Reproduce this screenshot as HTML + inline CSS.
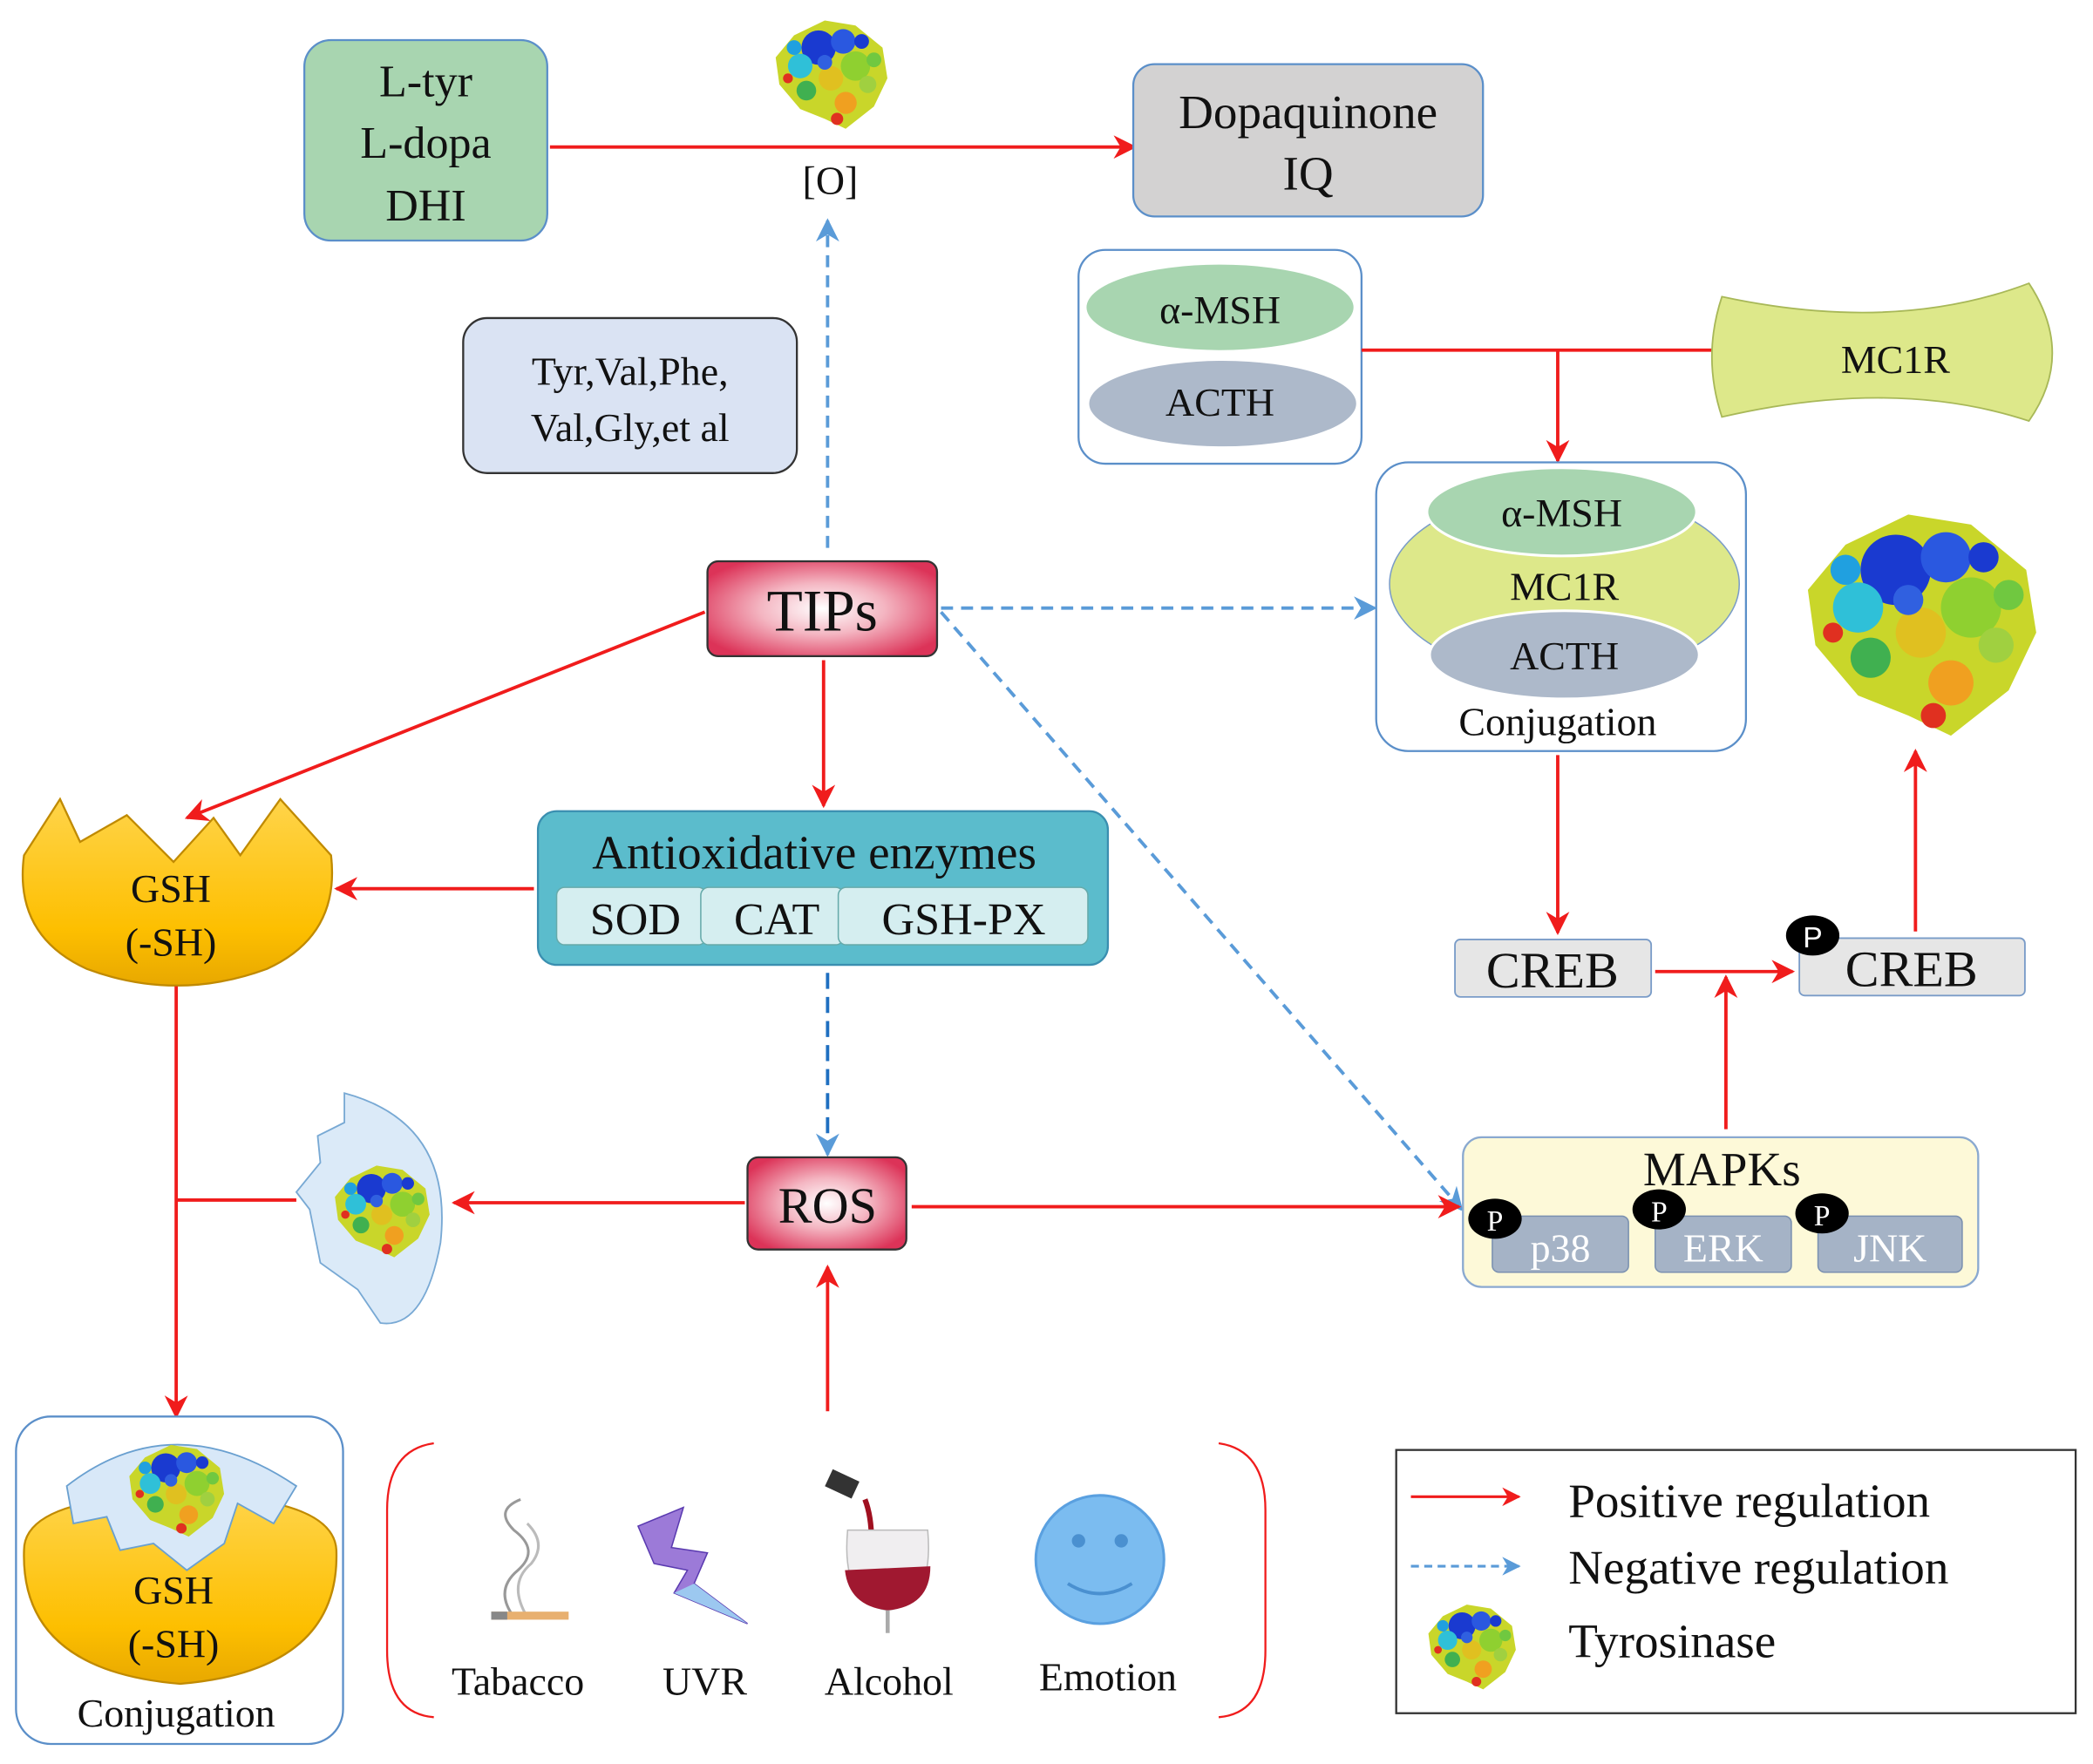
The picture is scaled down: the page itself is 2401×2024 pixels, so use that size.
<!DOCTYPE html>
<html><head><meta charset="utf-8"><style>
html,body{margin:0;padding:0;background:#fff}
svg{display:block}
text{font-family:"Liberation Serif",serif;fill:#111}
</style></head><body>
<svg width="2401" height="2024" viewBox="0 0 1568 1320" preserveAspectRatio="none" xmlns="http://www.w3.org/2000/svg">
<defs>
<marker id="ar" viewBox="0 0 10 10" refX="9" refY="5" markerWidth="7" markerHeight="7" orient="auto"><path d="M0,0 L10,5 L0,10 L3,5z" fill="#f01c1c"/></marker>
<marker id="ab" viewBox="0 0 10 10" refX="9" refY="5" markerWidth="7" markerHeight="7" orient="auto"><path d="M0,0 L10,5 L0,10 L3,5z" fill="#5a9bd8"/></marker>
<radialGradient id="tips" cx="50%" cy="50%" r="60%"><stop offset="0" stop-color="#fff"/><stop offset="0.45" stop-color="#f4b6c2"/><stop offset="1" stop-color="#dc3358"/></radialGradient>
<linearGradient id="gsh" x1="0" y1="0" x2="0" y2="1"><stop offset="0" stop-color="#ffd44a"/><stop offset="0.7" stop-color="#fdbf00"/><stop offset="1" stop-color="#e8a800"/></linearGradient>
<symbol id="tyr" viewBox="0 0 100 100">
<path d="M20,20 L45,8 L70,12 L92,30 L96,55 L85,78 L62,96 L45,88 L25,80 L8,60 L5,38z" fill="#c9d62a"/>
<circle cx="40" cy="30" r="14" fill="#1a3ad0"/><circle cx="60" cy="25" r="10" fill="#2a58e0"/>
<circle cx="25" cy="45" r="10" fill="#2fc0d8"/><circle cx="70" cy="45" r="12" fill="#8fd030"/>
<circle cx="50" cy="55" r="10" fill="#e0c020"/><circle cx="30" cy="65" r="8" fill="#40b050"/>
<circle cx="62" cy="75" r="9" fill="#f0a020"/><circle cx="80" cy="60" r="7" fill="#a0d040"/>
<circle cx="45" cy="42" r="6" fill="#3060e0"/><circle cx="20" cy="30" r="6" fill="#20a0e0"/>
<circle cx="75" cy="25" r="6" fill="#1a3ad0"/><circle cx="55" cy="88" r="5" fill="#e03020"/>
<circle cx="15" cy="55" r="4" fill="#e03020"/><circle cx="85" cy="40" r="6" fill="#70c840"/>
</symbol>
</defs>

<!-- top -->
<rect x="228" y="30" width="182" height="150" rx="20" fill="#a8d5b0" stroke="#5b8fc9" stroke-width="1.5"/>
<text x="319" y="72" font-size="34" text-anchor="middle">L-tyr</text>
<text x="319" y="118" font-size="34" text-anchor="middle">L-dopa</text>
<text x="319" y="165" font-size="34" text-anchor="middle">DHI</text>
<line x1="412" y1="110" x2="850" y2="110" stroke="#f01c1c" stroke-width="2.5" marker-end="url(#ar)"/>
<use href="#tyr" x="575" y="8" width="95" height="92"/>
<text x="622" y="145" font-size="30" text-anchor="middle">[O]</text>
<rect x="849" y="48" width="262" height="114" rx="16" fill="#d3d2d2" stroke="#5b8fc9" stroke-width="1.5"/>
<text x="980" y="96" font-size="36" text-anchor="middle">Dopaquinone</text>
<text x="980" y="142" font-size="36" text-anchor="middle">IQ</text>
<line x1="620" y1="410" x2="620" y2="165" stroke="#5a9bd8" stroke-width="2.5" stroke-dasharray="9,6" marker-end="url(#ab)"/>

<rect x="347" y="238" width="250" height="116" rx="18" fill="#dae3f3" stroke="#333" stroke-width="1.5"/>
<text x="472" y="288" font-size="30" text-anchor="middle">Tyr,Val,Phe,</text>
<text x="472" y="330" font-size="30" text-anchor="middle">Val,Gly,et al</text>

<!-- MSH box -->
<rect x="808" y="187" width="212" height="160" rx="20" fill="#fff" stroke="#5b8fc9" stroke-width="1.5"/>
<ellipse cx="914" cy="230" rx="100" ry="32" fill="#a8d5b0"/>
<text x="914" y="242" font-size="30" text-anchor="middle">α-MSH</text>
<ellipse cx="916" cy="302" rx="100" ry="32" fill="#adb9ca"/>
<text x="914" y="311" font-size="30" text-anchor="middle">ACTH</text>
<line x1="1020" y1="262" x2="1290" y2="262" stroke="#f01c1c" stroke-width="2.5"/>
<line x1="1167" y1="262" x2="1167" y2="345" stroke="#f01c1c" stroke-width="2.5" marker-end="url(#ar)"/>
<path d="M1290,222 Q1420,250 1520,212 Q1555,265 1520,315 Q1420,282 1290,312 Q1275,267 1290,222z" fill="#dde88a" stroke="#a8b858" stroke-width="1.2"/>
<text x="1420" y="279" font-size="30" text-anchor="middle">MC1R</text>

<rect x="1031" y="346" width="277" height="216" rx="24" fill="#fff" stroke="#5b8fc9" stroke-width="1.5"/>
<ellipse cx="1172" cy="437" rx="131" ry="70" fill="#dde88a" stroke="#7a9cc8" stroke-width="1"/>
<ellipse cx="1170" cy="383" rx="101" ry="33" fill="#a8d5b0" stroke="#fff" stroke-width="2"/>
<text x="1170" y="394" font-size="30" text-anchor="middle">α-MSH</text>
<text x="1172" y="449" font-size="30" text-anchor="middle">MC1R</text>
<ellipse cx="1172" cy="490" rx="101" ry="33" fill="#adb9ca" stroke="#fff" stroke-width="2"/>
<text x="1172" y="501" font-size="30" text-anchor="middle">ACTH</text>
<text x="1167" y="550" font-size="30" text-anchor="middle">Conjugation</text>
<use href="#tyr" x="1345" y="368" width="188" height="192"/>

<!-- TIPs -->
<rect x="530" y="420" width="172" height="71" rx="8" fill="url(#tips)" stroke="#333" stroke-width="1.5"/>
<text x="616" y="472" font-size="44" text-anchor="middle">TIPs</text>
<line x1="705" y1="455" x2="1030" y2="455" stroke="#5a9bd8" stroke-width="2.5" stroke-dasharray="9,6" marker-end="url(#ab)"/>
<line x1="705" y1="458" x2="1095" y2="905" stroke="#5a9bd8" stroke-width="2.5" stroke-dasharray="9,6" marker-end="url(#ab)"/>
<line x1="528" y1="458" x2="140" y2="612" stroke="#f01c1c" stroke-width="2.5" marker-end="url(#ar)"/>
<line x1="617" y1="494" x2="617" y2="603" stroke="#f01c1c" stroke-width="2.5" marker-end="url(#ar)"/>

<rect x="403" y="607" width="427" height="115" rx="14" fill="#5bbccc" stroke="#3a8fb0" stroke-width="1.5"/>
<text x="610" y="650" font-size="36" text-anchor="middle">Antioxidative enzymes</text>
<rect x="417" y="664" width="112" height="43" rx="6" fill="#d5eef0" stroke="#6aa" stroke-width="1"/>
<rect x="525" y="664" width="107" height="43" rx="6" fill="#d5eef0" stroke="#6aa" stroke-width="1"/>
<rect x="628" y="664" width="187" height="43" rx="6" fill="#d5eef0" stroke="#6aa" stroke-width="1"/>
<text x="476" y="699" font-size="34" text-anchor="middle">SOD</text>
<text x="582" y="699" font-size="34" text-anchor="middle">CAT</text>
<text x="722" y="699" font-size="34" text-anchor="middle">GSH-PX</text>
<line x1="400" y1="665" x2="252" y2="665" stroke="#f01c1c" stroke-width="2.5" marker-end="url(#ar)"/>

<!-- GSH -->
<path d="M18,640 L45,598 L60,630 L95,610 L130,645 L160,612 L180,640 L210,598 L248,640 Q255,700 200,725 Q132,750 65,725 Q10,700 18,640z" fill="url(#gsh)" stroke="#c08a00" stroke-width="1.5"/>
<text x="128" y="675" font-size="30" text-anchor="middle">GSH</text>
<text x="128" y="715" font-size="30" text-anchor="middle">(-SH)</text>
<line x1="132" y1="738" x2="132" y2="1060" stroke="#f01c1c" stroke-width="2.5" marker-end="url(#ar)"/>
<line x1="132" y1="898" x2="222" y2="898" stroke="#f01c1c" stroke-width="2.5"/>

<line x1="620" y1="728" x2="620" y2="864" stroke="#1f6fc0" stroke-width="2.5" stroke-dasharray="12,6" marker-end="url(#ab)"/>
<rect x="560" y="866" width="119" height="69" rx="8" fill="url(#tips)" stroke="#333" stroke-width="1.5"/>
<text x="620" y="915" font-size="38" text-anchor="middle">ROS</text>
<line x1="558" y1="900" x2="340" y2="900" stroke="#f01c1c" stroke-width="2.5" marker-end="url(#ar)"/>
<path d="M258,818 Q340,840 330,930 Q318,995 285,990 L268,965 L240,945 L232,905 L222,892 L240,870 L238,850 L258,840z" fill="#d8e8f8" stroke="#6aa0d0" stroke-width="1.2" opacity="0.9"/>
<use href="#tyr" x="246" y="866" width="80" height="78"/>
<line x1="683" y1="903" x2="1093" y2="903" stroke="#f01c1c" stroke-width="2.5" marker-end="url(#ar)"/>
<line x1="620" y1="1056" x2="620" y2="948" stroke="#f01c1c" stroke-width="2.5" marker-end="url(#ar)"/>

<!-- CREB -->
<line x1="1167" y1="565" x2="1167" y2="698" stroke="#f01c1c" stroke-width="2.5" marker-end="url(#ar)"/>
<rect x="1090" y="703" width="147" height="43" rx="4" fill="#e6e6e6" stroke="#7a9cc8" stroke-width="1.2"/>
<text x="1163" y="739" font-size="38" text-anchor="middle">CREB</text>
<line x1="1240" y1="727" x2="1343" y2="727" stroke="#f01c1c" stroke-width="2.5" marker-end="url(#ar)"/>
<line x1="1293" y1="845" x2="1293" y2="731" stroke="#f01c1c" stroke-width="2.5" marker-end="url(#ar)"/>
<rect x="1348" y="702" width="169" height="43" rx="4" fill="#e6e6e6" stroke="#7a9cc8" stroke-width="1.2"/>
<text x="1432" y="738" font-size="38" text-anchor="middle">CREB</text>
<ellipse cx="1358" cy="700" rx="20" ry="15" fill="#000"/>
<text x="1358" y="709" font-size="22" text-anchor="middle" style="fill:#fff;font-family:'Liberation Sans',sans-serif">P</text>
<line x1="1435" y1="697" x2="1435" y2="562" stroke="#f01c1c" stroke-width="2.5" marker-end="url(#ar)"/>

<!-- MAPKs -->
<rect x="1096" y="851" width="386" height="112" rx="14" fill="#fdf9d8" stroke="#8aa9d0" stroke-width="1.5"/>
<text x="1290" y="887" font-size="36" text-anchor="middle">MAPKs</text>
<rect x="1118" y="910" width="102" height="42" rx="5" fill="#a5b3c6" stroke="#7a90b0"/>
<rect x="1240" y="910" width="102" height="42" rx="5" fill="#a5b3c6" stroke="#7a90b0"/>
<rect x="1362" y="910" width="108" height="42" rx="5" fill="#a5b3c6" stroke="#7a90b0"/>
<text x="1169" y="944" font-size="30" text-anchor="middle" style="fill:#fff">p38</text>
<text x="1291" y="944" font-size="30" text-anchor="middle" style="fill:#fff">ERK</text>
<text x="1416" y="944" font-size="30" text-anchor="middle" style="fill:#fff">JNK</text>
<g style="font-family:'Liberation Sans',sans-serif">
<ellipse cx="1120" cy="912" rx="20" ry="15" fill="#000"/><text x="1120" y="921" font-size="22" text-anchor="middle" style="fill:#fff">P</text>
<ellipse cx="1243" cy="905" rx="20" ry="15" fill="#000"/><text x="1243" y="914" font-size="22" text-anchor="middle" style="fill:#fff">P</text>
<ellipse cx="1365" cy="908" rx="20" ry="15" fill="#000"/><text x="1365" y="917" font-size="22" text-anchor="middle" style="fill:#fff">P</text>
</g>

<!-- bottom-left conjugation -->
<rect x="12" y="1060" width="245" height="245" rx="26" fill="#fff" stroke="#5b8fc9" stroke-width="1.5"/>
<path d="M18,1160 Q15,1250 135,1260 Q255,1250 252,1160 Q250,1120 135,1118 Q18,1120 18,1160z" fill="url(#gsh)" stroke="#c08a00" stroke-width="1.5"/>
<path d="M50,1112 Q130,1050 222,1112 L205,1140 L178,1125 L168,1155 L140,1175 L115,1155 L90,1160 L80,1135 L55,1140z" fill="#d8e8f8" stroke="#6aa0d0" stroke-width="1.2"/>
<use href="#tyr" x="92" y="1075" width="80" height="78"/>
<text x="130" y="1200" font-size="30" text-anchor="middle">GSH</text>
<text x="130" y="1240" font-size="30" text-anchor="middle">(-SH)</text>
<text x="132" y="1292" font-size="30" text-anchor="middle">Conjugation</text>

<!-- factors bracket -->
<path d="M325,1080 Q290,1085 290,1130 L290,1235 Q290,1282 325,1285" fill="none" stroke="#f01c1c" stroke-width="1.5"/>
<path d="M913,1080 Q948,1085 948,1130 L948,1235 Q948,1282 913,1285" fill="none" stroke="#f01c1c" stroke-width="1.5"/>
<!-- smoke -->
<path d="M385,1210 Q370,1190 388,1175 Q405,1160 385,1145 Q370,1130 390,1122" fill="none" stroke="#999" stroke-width="2"/>
<path d="M395,1210 Q380,1185 398,1170 Q410,1155 395,1140" fill="none" stroke="#bbb" stroke-width="2"/>
<rect x="368" y="1206" width="58" height="6" fill="#e8b070"/><rect x="368" y="1206" width="12" height="6" fill="#888"/>
<!-- lightning -->
<path d="M478,1142 L512,1128 L503,1158 L530,1162 L520,1185 L560,1215 L505,1192 L515,1175 L490,1170z" fill="#9c7ad8" stroke="#5a3ab0" stroke-width="1"/>
<path d="M520,1185 L560,1215 L505,1192z" fill="#9cc8f0"/>
<!-- wine -->
<rect x="620" y="1103" width="22" height="14" fill="#333" transform="rotate(25 630 1110)"/>
<path d="M648,1122 Q655,1140 652,1170" stroke="#a01020" stroke-width="4" fill="none"/>
<path d="M635,1145 Q630,1200 665,1205 Q700,1200 695,1145z" fill="#f0eef0" stroke="#bbb"/>
<path d="M633,1175 Q636,1202 665,1205 Q697,1202 697,1172z" fill="#a01830"/>
<line x1="665" y1="1205" x2="665" y2="1222" stroke="#aaa" stroke-width="3"/>
<!-- emotion -->
<circle cx="824" cy="1167" r="48" fill="#7bbcf0" stroke="#5aa0e0" stroke-width="2"/>
<circle cx="808" cy="1153" r="5" fill="#4a90d0"/><circle cx="840" cy="1153" r="5" fill="#4a90d0"/>
<path d="M800,1185 Q824,1200 848,1185" fill="none" stroke="#4a90d0" stroke-width="2.5"/>
<text x="388" y="1268" font-size="30" text-anchor="middle">Tabacco</text>
<text x="528" y="1268" font-size="30" text-anchor="middle">UVR</text>
<text x="666" y="1268" font-size="30" text-anchor="middle">Alcohol</text>
<text x="830" y="1265" font-size="30" text-anchor="middle">Emotion</text>

<!-- legend -->
<rect x="1046" y="1085" width="509" height="197" fill="#fff" stroke="#333" stroke-width="1.5"/>
<line x1="1057" y1="1120" x2="1138" y2="1120" stroke="#f01c1c" stroke-width="2" marker-end="url(#ar)"/>
<line x1="1057" y1="1172" x2="1138" y2="1172" stroke="#5a9bd8" stroke-width="2" stroke-dasharray="6,4" marker-end="url(#ab)"/>
<use href="#tyr" x="1065" y="1195" width="75" height="72"/>
<text x="1175" y="1135" font-size="36">Positive regulation</text>
<text x="1175" y="1185" font-size="36">Negative regulation</text>
<text x="1175" y="1240" font-size="36">Tyrosinase</text>
</svg>
</body></html>
